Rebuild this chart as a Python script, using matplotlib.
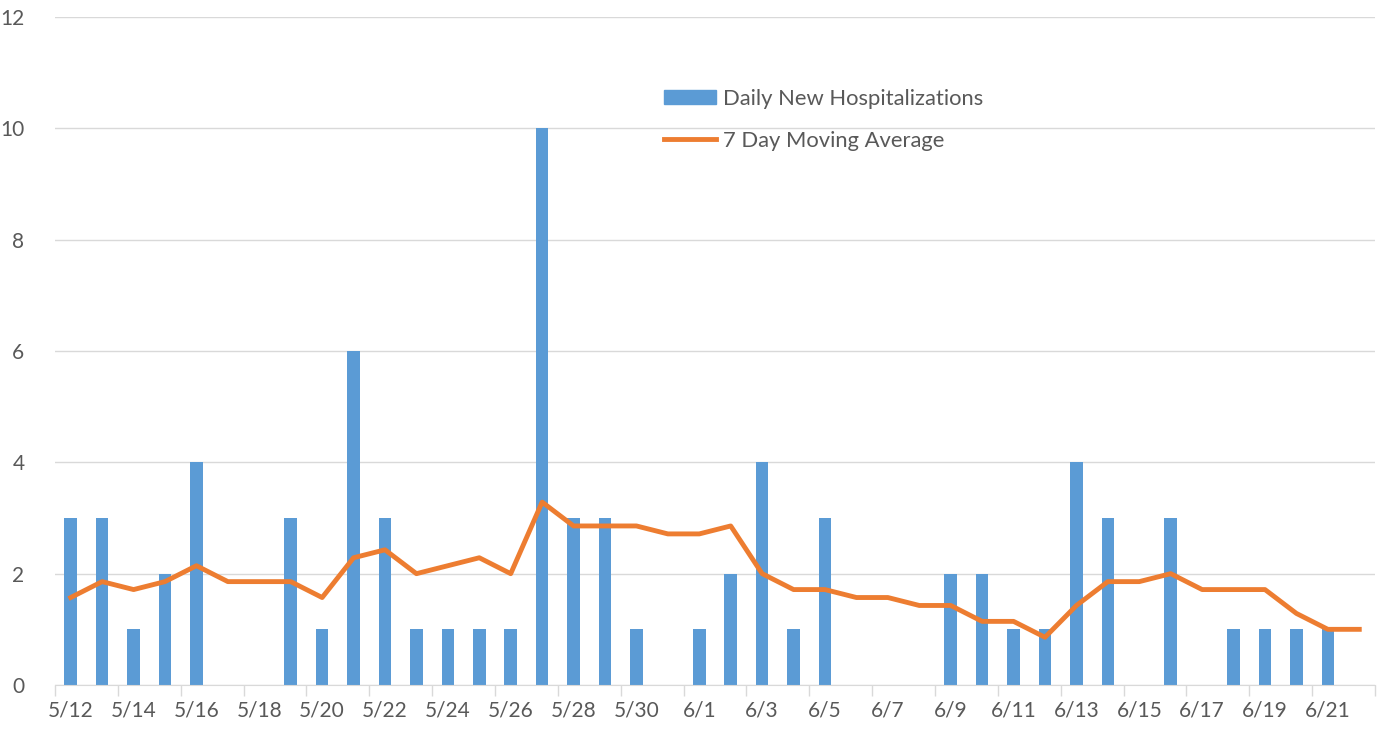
import numpy as np
import matplotlib.pyplot as plt
from matplotlib.patches import Patch
from matplotlib.lines import Line2D

plt.rcParams['font.family'] = ['Lato', 'DejaVu Sans']

# 5/12 .. 6/22
dates = ([f"5/{d}" for d in range(12, 32)] + [f"6/{d}" for d in range(1, 23)])
daily = [3, 3, 1, 2, 4, 0, 0, 3, 1, 6, 3, 1, 1, 1, 1, 10, 3, 3, 1, 0,
         1, 2, 4, 1, 3, 0, 0, 0, 2, 2, 1, 1, 4, 3, 0, 3, 0, 1, 1, 1, 1, 0]
# moving average, in sevenths
avg7 = [11, 13, 12, 13, 15, 13, 13, 13, 11, 16, 17, 14, 15, 16, 14, 23, 20, 20, 20, 19,
        19, 20, 14, 12, 12, 11, 11, 10, 10, 8, 8, 6, 10, 13, 13, 14, 12, 12, 12, 9, 7, 7]
avg7 = np.array(avg7) / 7.0

x = np.arange(len(dates))
gray = '#595959'

fig = plt.figure(figsize=(13.78, 7.30), dpi=100)
ax = fig.add_axes([55 / 1378, 45 / 730, 1320 / 1378, 668 / 730])

ax.bar(x, daily, width=0.4, color='#5b9bd5', zorder=2)
ax.plot(x, avg7, color='#ed7d31', lw=3.5, zorder=3, solid_joinstyle='round')

ax.set_xlim(-0.5, len(dates) - 0.5)
ax.set_ylim(0, 12)
ax.set_yticks(range(0, 13, 2))
ax.yaxis.grid(True, color='#d9d9d9', lw=1)
ax.set_axisbelow(True)
for s in ['top', 'right', 'left']:
    ax.spines[s].set_visible(False)
ax.spines['bottom'].set_color('#d9d9d9')
ax.tick_params(axis='y', length=0, labelsize=15, labelcolor=gray, pad=22)

ax.set_xticks(x[::2])
ax.set_xticklabels(dates[::2])
ax.tick_params(axis='x', length=0, labelsize=15, labelcolor=gray, pad=11)
ax.set_xticks(np.arange(-0.5, len(dates), 2), minor=True)
ax.tick_params(axis='x', which='minor', length=8, color='#d9d9d9', width=1)

handles = [Patch(color='#5b9bd5'), Line2D([], [], color='#ed7d31', lw=3.5)]
fig.legend(handles, ['Daily New Hospitalizations', '7 Day Moving Average'],
           loc='upper left', bbox_to_anchor=(644 / 1378, 1 - 69 / 730),
           frameon=False, fontsize=15.8, labelcolor=gray,
           handlelength=2.4, handleheight=0.6, handletextpad=0.3, labelspacing=1.0)

fig.savefig('out.png', dpi=100)
